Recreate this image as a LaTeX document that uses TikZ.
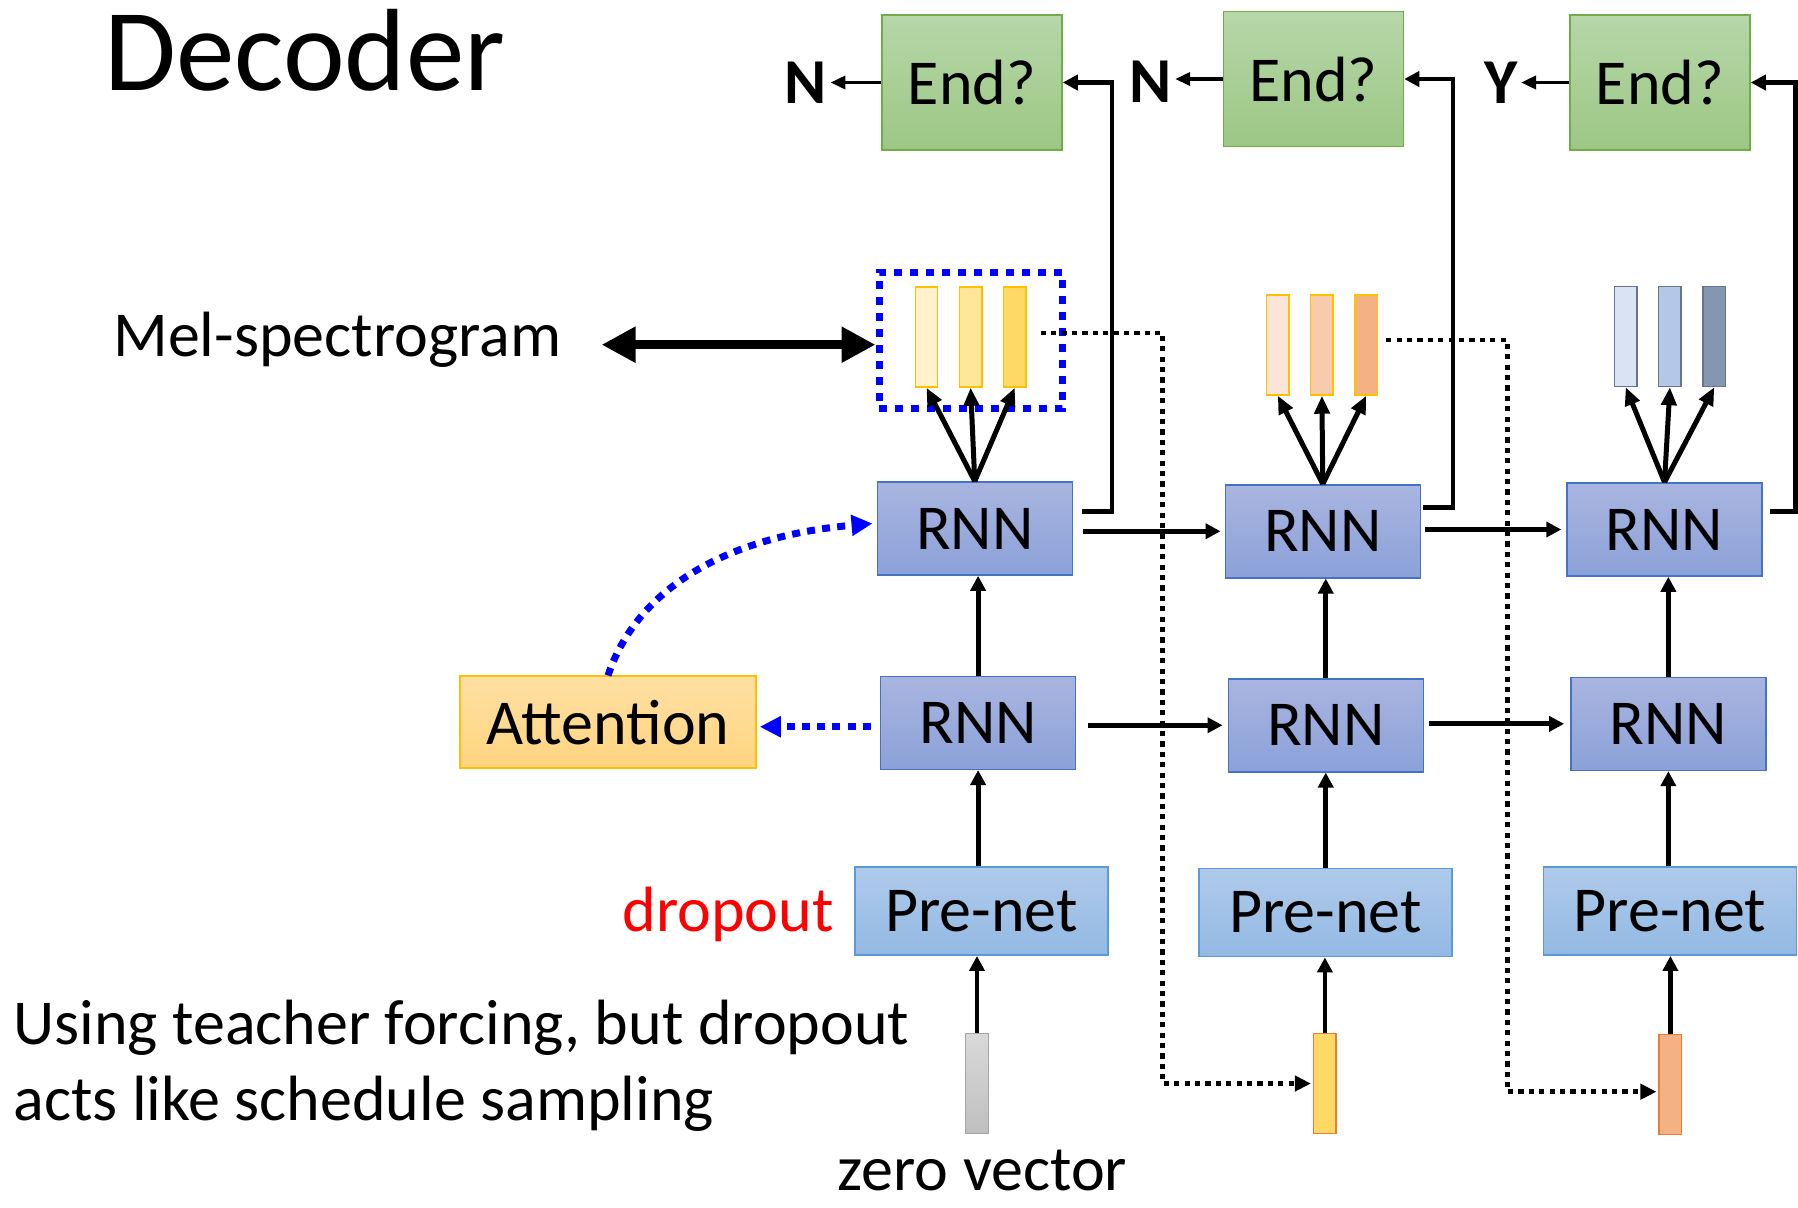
\documentclass[tikz,border=0pt]{standalone}
\usepackage{fontspec}
\setmainfont{Carlito}
\usetikzlibrary{arrows.meta,calc}

% box fills and borders
\definecolor{gtop}{HTML}{B6D7A8}
\definecolor{gbot}{HTML}{9CC784}
\definecolor{gedge}{HTML}{70AD47}
\definecolor{rtop}{HTML}{A9B5E0}
\definecolor{rbot}{HTML}{8BA1D8}
\definecolor{redge}{HTML}{4472C4}
\definecolor{ptop}{HTML}{AFCAEA}
\definecolor{pbot}{HTML}{93B9E4}
\definecolor{pedge}{HTML}{5B9BD5}
\definecolor{attop}{HTML}{FFE0A3}
\definecolor{atbot}{HTML}{FFD47F}
\definecolor{atedge}{HTML}{FFC000}
% spectrogram frames
\definecolor{ya}{HTML}{FFF2CC}
\definecolor{yb}{HTML}{FFE699}
\definecolor{yc}{HTML}{FFD966}
\definecolor{oa}{HTML}{FBE5D6}
\definecolor{ob}{HTML}{F8CBAD}
\definecolor{oc}{HTML}{F4B183}
\definecolor{ba}{HTML}{DAE3F3}
\definecolor{bb}{HTML}{B4C7E7}
\definecolor{bc}{HTML}{8497B0}
\definecolor{bedge}{HTML}{65758F}
\definecolor{oedge}{HTML}{ED7D31}
\definecolor{gra}{HTML}{D9D9D9}
\definecolor{grb}{HTML}{BFBFBF}
\definecolor{gredge}{HTML}{A5A5A5}

\begin{document}
\begin{tikzpicture}[x=0.5pt,y=-0.5pt,
  txtfont/.style={font=\fontsize{32}{38.4}\selectfont},
  cbox/.style={draw, line width=0.75pt, inner sep=0pt, txtfont},
  endbox/.style={cbox, draw=gedge, top color=gtop, bottom color=gbot, minimum width=90pt, minimum height=67.5pt},
  rnnbox/.style={cbox, draw=redge, top color=rtop, bottom color=rbot, minimum width=97.5pt, minimum height=46.5pt},
  prebox/.style={cbox, draw=pedge, top color=ptop, bottom color=pbot, minimum width=126.5pt, minimum height=44pt},
  attbox/.style={cbox, draw=atedge, top color=attop, bottom color=atbot, minimum width=148pt, minimum height=46pt},
  specbar/.style={draw, line width=0.7pt, inner sep=0pt, minimum width=11.25pt, minimum height=50pt},
  txt/.style={inner sep=0pt, txtfont},
  yn/.style={inner sep=1.5pt, font=\fontsize{32}{38.4}\selectfont\bfseries},
  conn/.style={line width=2.4pt, -{Triangle[length=7.5pt,width=7.5pt]}},
  fan/.style={line width=2.5pt, -{Triangle[length=9pt,width=7.5pt]}},
  yarrow/.style={line width=1.8pt, -{Triangle[length=7.5pt,width=6.5pt]}},
  dots/.style={line width=2.4pt, dash pattern=on 2.6pt off 2.6pt, -{Triangle[length=8pt,width=7.5pt]}},
  bdots/.style={draw=blue, line width=3.5pt, dash pattern=on 4pt off 3.6pt, -{Triangle[length=10.5pt,width=10pt]}},
  dbl/.style={line width=4.5pt, {Triangle[length=17pt,width=17pt]}-{Triangle[length=17pt,width=17pt]}}
]
\useasboundingbox (0,0) rectangle (1798,1207);

% stop-token decisions
\node[endbox] (end1) at (972,82.5) {End?};
\node[endbox] (end2) at (1313.5,79) {End?};
\node[endbox] (end3) at (1660,82.5) {End?};
\node[yn, anchor=base] (n1) at (806,103.3) {N};
\node[yn, anchor=base] (n2) at (1150.7,102.6) {N};
\node[yn, anchor=base] (y3) at (1501,103.3) {Y};

% decoder RNN layers
\node[rnnbox] (ra1) at (974.75,528.5) {RNN};
\node[rnnbox] (ra2) at (1322.75,531.25) {RNN};
\node[rnnbox] (ra3) at (1664.5,529.5) {RNN};
\node[rnnbox] (rb1) at (978.1,722.75) {RNN};
\node[rnnbox] (rb2) at (1325.75,725.25) {RNN};
\node[rnnbox] (rb3) at (1668.35,723.85) {RNN};

% pre-nets and attention
\node[prebox] (pre1) at (981.4,911.2) {Pre-net};
\node[prebox] (pre2) at (1325.45,912.65) {Pre-net};
\node[prebox] (pre3) at (1669.85,911.2) {Pre-net};
\node[attbox] (att) at (608,722.2) {Attention};

% output frames
\node[specbar, draw=atedge, fill=ya] (s11) at (926.5,337) {};
\node[specbar, draw=atedge, fill=yb] (s12) at (970.6,337) {};
\node[specbar, draw=atedge, fill=yc] (s13) at (1014.8,337) {};
\node[specbar, draw=atedge, fill=oa] (s21) at (1277.8,345) {};
\node[specbar, draw=atedge, fill=ob] (s22) at (1321.9,345) {};
\node[specbar, draw=atedge, fill=oc] (s23) at (1366.2,345) {};
\node[specbar, draw=bedge, fill=ba] (s31) at (1625.7,336.5) {};
\node[specbar, draw=bedge, fill=bb] (s32) at (1669.9,336.5) {};
\node[specbar, draw=bedge, fill=bc] (s33) at (1714.3,336.5) {};
\node[draw=blue, line width=3.5pt, dash pattern=on 4pt off 4pt, inner sep=0pt,
      minimum width=91.75pt, minimum height=68pt] (melbox) at (970.75,340) {};

% decoder inputs
\node[specbar, draw=gredge, top color=gra, bottom color=grb] (in1) at (977,1083.5) {};
\node[specbar, draw=oedge, fill=yc] (in2) at (1324.9,1083.5) {};
\node[specbar, draw=oedge, fill=oc] (in3) at (1670.4,1084.7) {};

% captions
\node[txt, anchor=base west] (title) at (104,90) {\fontsize{58.5}{70}\selectfont Decoder};
\node[txt, anchor=base west] (mel) at (113,356.7) {Mel-spectrogram};
\node[txt, anchor=base east, text=red] (drop) at (834,931) {dropout};
\node[txt, anchor=base west] (note1) at (13,1044.3) {Using teacher forcing, but dropout};
\node[txt, anchor=base west] (note2) at (13,1120.7) {acts like schedule sampling};
\node[txt, anchor=base] (zero) at (982.5,1190) {zero vector};

% decisions
\draw[yarrow] (end1.west) -- (n1.east |- end1.west);
\draw[yarrow] (end2.west) -- (n2.east |- end2.west);
\draw[yarrow] (end3.west) -- (y3.east |- end3.west);

% RNN state to stop-token check
\draw[conn] ($(ra1.north east)+(9,30)$) -- ++(30,0) |- (end1.east);
\draw[conn] ($(ra2.north east)+(2,23.5)$) -- ++(30,0) |- (end2.east);
\draw[conn] ($(ra3.north east)+(7,29)$) -- ++(26,0) |- (end3.east);

% recurrence
\draw[conn] ($(ra1.east |- ra2.west)+(10,0)$) -- ($(ra2.west)+(-4,0)$);
\draw[conn] ($(ra2.east |- ra3.west)+(4,0)$) -- ($(ra3.west)+(-5,0)$);
\draw[conn] ($(rb1.east |- rb2.west)+(12,0)$) -- ($(rb2.west)+(-5,0)$);
\draw[conn] ($(rb2.east |- rb3.west)+(5,0)$) -- ($(rb3.west)+(-6,0)$);

% bottom-up flow in each step
\foreach \i in {1,2,3}{
  \draw[conn] (rb\i.north) -- (rb\i.north |- ra\i.south);
  \draw[conn] (rb\i.south |- pre\i.north) -- (rb\i.south);
  \draw[conn] (in\i.north) -- (in\i.north |- pre\i.south);
  \foreach \k in {1,2,3}{
    \draw[fan] (ra\i.north) -- (s\i\k.south);
  }
}

% last frame fed back as next input
\draw[dots] ($(s13.east)+(14,-4)$) -- ++(122,0) |- ($(in2.west)+(-2,0)$);
\draw[dots] ($(s23.east)+(8,-5)$) -- ++(121,0) |- ($(in3.west)+(-2,7)$);

% attention
\draw[bdots] ($(rb1.west)+(-9,4)$) -- ($(att.east |- rb1.west)+(3,4)$);
\draw[bdots] (att.north) .. controls (640,580) and (740,535) .. ($(ra1.west)+(-4,-5)$);

% mel-spectrogram link
\coordinate (mtip) at ($(mel.base east)+(40,-12)$);
\draw[dbl] (mtip) -- (mtip -| melbox.west);
\end{tikzpicture}
\end{document}
